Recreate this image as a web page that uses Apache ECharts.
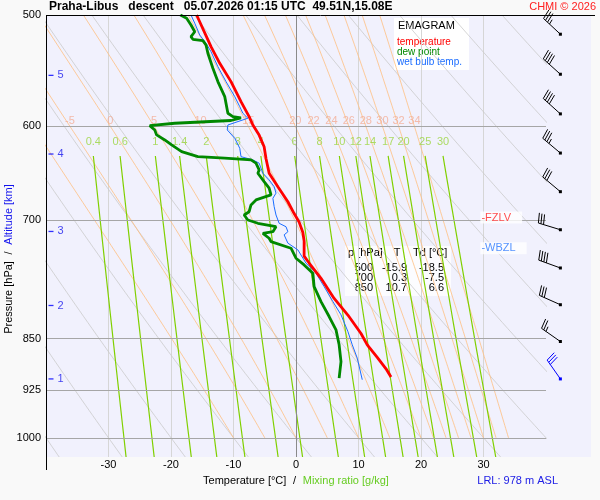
<!DOCTYPE html>
<html>
<head>
<meta charset="utf-8">
<title>Praha-Libus emagram</title>
<script src="https://cdn.jsdelivr.net/npm/echarts@6.0.0/dist/echarts.min.js"></script>
<style>
  html, body { margin: 0; padding: 0; background: #f9f9f9; }
  #chart { width: 600px; height: 500px; }
</style>
</head>
<body>
<div id="chart"></div>
<script>
var FONT = '"Liberation Sans", Arial, sans-serif';

// --- sounding (p in hPa, T in degC) ---
var tempP = [500, 506.8, 519.5, 526.6, 541.2, 557.7, 576.3, 590.6, 598.8, 608.8, 620.6, 632.6, 648.1, 662.5, 679.1,
    692.4, 702.2, 714.2, 724.3, 742.5, 750.9, 769.9, 795.7, 817.7, 842.9, 858.7, 876.6, 893.1, 905.2];
var tempT = [-15.9, -15.3, -14.2, -13.6, -12.2, -10.4, -8.8, -7.5, -6.9, -5.9, -5.1, -4.8, -4.3, -2.9, -1.3,
    -0.3, 0.5, 1.1, 1.3, 1.3, 2.1, 4.0, 6.1, 8.3, 10.4, 11.4, 13.0, 14.4, 15.2];

var dewP = [500, 502.7, 508.3, 513.9, 518.1, 520.3, 521.5, 525.2, 532.4, 545.6, 557.7, 571.6, 587.4, 590.7, 591.9,
    594.4, 597.1, 599.4, 603.7, 608.6, 613.7, 618.7, 625.5, 630.7, 632.3, 634.1, 637.5, 644.6, 648.1, 657.1,
    664.2, 671.5, 677.1, 682.6, 690.3, 694.0, 699.7, 703.5, 707.5, 713.3, 715.2, 721.0, 725.0, 732.9, 745.0,
    753.2, 763.5, 780.5, 799.9, 819.7, 837.8, 858.6, 882.5, 906.7];
var dewT = [-18.5, -17.5, -16.8, -16.2, -16.8, -16.5, -14.9, -14.4, -14.1, -13.3, -12.5, -11.4, -10.9, -10.1, -8.8,
    -10.4, -19.4, -23.4, -22.6, -22.3, -21.0, -19.9, -18.3, -15.7, -11.4, -7.2, -6.4, -5.9, -6.1, -5.1,
    -4.3, -4.0, -6.4, -7.2, -7.5, -8.3, -7.7, -6.1, -3.2, -3.7, -5.3, -4.3, -4.0, -0.8, 0.0,
    1.3, 2.7, 2.9, 4.0, 5.3, 6.4, 6.9, 7.2, 6.9];

var wbP = [500, 506.8, 516.7, 523.7, 531.0, 544.2, 557.7, 571.6, 581.1, 587.4, 592.2, 598.8, 603.7, 612.0, 622.1,
    630.7, 634.1, 637.5, 648.1, 655.2, 662.5, 669.6, 675.3, 684.5, 694.0, 703.5, 707.5, 713.3, 717.0, 726.8,
    734.9, 751.1, 763.5, 780.5, 799.9, 817.4, 840.1, 858.6, 877.6, 909.2];
var wbT = [-16.8, -16.2, -15.4, -14.4, -13.6, -12.5, -11.2, -9.8, -9.0, -8.5, -7.7, -10.9, -11.0, -9.8, -9.0,
    -8.8, -6.9, -5.9, -5.3, -4.3, -3.5, -3.2, -3.7, -3.5, -3.2, -2.7, -1.6, -1.3, -1.9, -1.3,
    0.3, 1.6, 3.2, 4.5, 5.9, 7.2, 8.3, 9.0, 9.8, 10.6];

// wind barbs (dir in deg, speed in kt)
var windP = [516, 551, 588, 627, 668, 711, 757, 804, 854, 908];
var windDir = [313, 312, 312, 310, 310, 287, 290, 294, 305, 325];
var windSpd = [35, 40, 40, 35, 30, 30, 40, 30, 25, 30];

var tableP = [500, 700, 850];
var tableT = [-15.9, 0.3, 10.7];
var tableTd = [-18.5, -7.5, 6.6];

var pressureTicks = [500, 600, 700, 850, 925, 1000];
var altKm = [1, 2, 3, 4, 5];
var altP = [908, 805, 713, 628, 552];
var fzlvP = 697;
var wbzlP = 733;

// diagram background families
var mixRatios = [0.4, 0.6, 1, 1.4, 2, 3, 4, 6, 8, 10, 12, 14, 17, 20, 25, 30];
var thetaW = [-10, -5, 0, 5, 10, 15, 20, 22, 24, 26, 28, 30, 32, 34];
var dryT1000 = [-40, -30, -20, -10, 0, 10, 20, 30, 40, 50, 60, 70, 80, 90, 100, 110];

var P_TOP = 500, P_BOT = 1032;

function pairs(ps, ts) {
    return ps.map(function(p, i) { return [ts[i], p]; });
}
function es(tc) { return 6.112 * Math.exp(17.67 * tc / (tc + 243.5)); }

function dryLine(t0) {
    var th = t0 + 273.15, pts = [];
    for (var p = P_TOP; p < P_BOT; p += 8) pts.push([th * Math.pow(p / 1000, 0.2857) - 273.15, p]);
    pts.push([th * Math.pow(P_BOT / 1000, 0.2857) - 273.15, P_BOT]);
    return pts;
}
function dTdp(p, tk) {
    var e = es(tk - 273.15), rs = 0.622 * e / (p - e), lv = 2.5e6, rd = 287;
    return (rd * tk + lv * rs) / ((1005 + lv * lv * rs * 0.622 / (rd * tk * tk)) * p);
}
function moistLine(t0) {
    var tk = t0 + 273.15, pts = [[t0, 1000]], h = 5;
    for (var p = 1000; p > P_TOP; p -= h) {
        var k1 = dTdp(p, tk);
        tk -= h * dTdp(p - h / 2, tk - h / 2 * k1);
        pts.push([tk - 273.15, p - h]);
    }
    return pts;
}
function mixT(w, p) {
    var l = Math.log(w * p / (622 + w) / 6.112);
    return 243.5 * l / (17.67 - l);
}
function mixLine(w) {
    var pts = [];
    for (var p = 630; p < P_BOT; p += 10) pts.push([mixT(w, p), p]);
    pts.push([mixT(w, P_BOT), P_BOT]);
    return pts;
}

function iso(data, color, width) {
    return { type: 'line', data: data, symbol: 'none', silent: true, z: 1,
        lineStyle: { color: color, width: width } };
}

var series = [];
dryT1000.forEach(function(t) { series.push(iso(dryLine(t), '#cacaca', 0.8)); });
var moist = thetaW.map(moistLine);
moist.forEach(function(l) { series.push(iso(l, '#ffbf80', 0.8)); });
mixRatios.forEach(function(w) { series.push(iso(mixLine(w), '#80d000', 1.2)); });

// pressure grid lines, labels and 0 degC line
series[0].markLine = {
    symbol: ['none', 'none'], silent: true,
    label: { position: 'start', distance: 5, color: '#000', fontSize: 11, fontFamily: FONT,
        formatter: function(p) { return p.value; } },
    lineStyle: { color: '#a6a6a6', width: 1, type: 'solid' },
    data: pressureTicks.map(function(p) {
        return p === 500 ? { yAxis: p, lineStyle: { color: 'rgba(0,0,0,0)' } } : { yAxis: p };
    }).concat([{ xAxis: 0, label: { show: false }, lineStyle: { color: '#8a8a8a' } }])
};

// isoline labels
series.push({
    type: 'scatter', symbolSize: 0, silent: true, z: 3,
    label: { show: true, position: 'inside', formatter: '{b}', color: '#f4ad95', fontSize: 11, fontFamily: FONT },
    data: thetaW.map(function(t, i) {
        var at600 = moist[i][80][0];
        return at600 > -39 ? { name: String(t), value: [at600, 594.5] } : null;
    }).filter(Boolean)
});
series.push({
    type: 'scatter', symbolSize: 0, silent: true, z: 3,
    label: { show: true, position: 'inside', formatter: '{b}', color: '#9ad43c', fontSize: 11, fontFamily: FONT },
    data: mixRatios.map(function(w) { return { name: String(w), value: [mixT(w, 630), 616] }; })
});

// sounding curves
series.push({ type: 'line', name: 'wet bulb temp.', data: pairs(wbP, wbT), symbol: 'none', z: 5,
    lineStyle: { color: '#1a6cff', width: 1 } });
series.push({ type: 'line', name: 'dew point', data: pairs(dewP, dewT), symbol: 'none', z: 6,
    lineStyle: { color: '#008800', width: 2.8 } });
series.push({ type: 'line', name: 'temperature', data: pairs(tempP, tempT), symbol: 'none', z: 7,
    lineStyle: { color: '#ff0000', width: 2.8 } });

// altitude marks
series.push({
    type: 'scatter', symbol: 'rect', symbolSize: [5, 1.3], symbolOffset: [5, 0], silent: true, z: 4,
    itemStyle: { color: '#0000ff' },
    label: { show: true, position: 'right', distance: 4, formatter: '{b}', color: '#1414ee', fontSize: 11, fontFamily: FONT },
    data: altKm.map(function(k, i) { return { name: String(k), value: [-40, altP[i]] }; })
});

// freezing / wet bulb zero levels
series.push({
    type: 'scatter', symbolSize: 0, silent: true, z: 8,
    label: { show: true, position: 'right', distance: 0, backgroundColor: '#fff', padding: [1, 11, 0, 1],
        fontSize: 11, fontFamily: FONT, formatter: '{b}' },
    data: [
        { name: '-FZLV', value: [29.5, fzlvP], label: { color: '#ff2020' } },
        { name: '-WBZL', value: [29.5, wbzlP], label: { color: '#2a78ff' } }
    ]
});

// wind barbs
series.push({
    type: 'custom', silent: true, z: 8,
    data: windP.map(function(p, i) { return [42.3, p, windDir[i], windSpd[i]]; }),
    renderItem: function(params, api) {
        var pt = api.coord([api.value(0), api.value(1)]);
        var a = api.value(2) * Math.PI / 180, spd = api.value(3);
        var dx = Math.sin(a), dy = -Math.cos(a), px = -dy, py = dx;
        var L = 23, bl = 10, gap = 2.7;
        var col = params.dataIndex === windP.length - 1 ? '#0000ff' : '#000';
        var kids = [
            { type: 'line', shape: { x1: pt[0], y1: pt[1], x2: pt[0] + dx * L, y2: pt[1] + dy * L },
                style: { stroke: col, lineWidth: 1 } },
            { type: 'rect', shape: { x: pt[0] - 1.5, y: pt[1] - 1.5, width: 3, height: 3 }, style: { fill: col } }
        ];
        function barb(k, len) {
            var bx = pt[0] + dx * (L - k * gap), by = pt[1] + dy * (L - k * gap);
            kids.push({ type: 'line',
                shape: { x1: bx, y1: by, x2: bx + px * len + dx * len * 0.2, y2: by + py * len + dy * len * 0.2 },
                style: { stroke: col, lineWidth: 1 } });
        }
        var rest = spd, k = 0;
        while (rest >= 10) { barb(k, bl); rest -= 10; k++; }
        if (rest >= 5) barb(k, bl / 2);
        return { type: 'group', children: kids };
    }
});

// table text
var tableKids = [
    { type: 'rect', shape: { x: 345, y: 246, width: 106, height: 50 }, style: { fill: 'rgba(255,255,255,0.8)' } },
    { type: 'text', x: 348, y: 253, style: { text: 'p [hPa]', fill: '#000', font: '11px ' + FONT, verticalAlign: 'middle' } },
    { type: 'text', x: 397, y: 253, style: { text: 'T', fill: '#000', font: '11px ' + FONT, align: 'center', verticalAlign: 'middle' } },
    { type: 'text', x: 413, y: 253, style: { text: 'Td [°C]', fill: '#000', font: '11px ' + FONT, verticalAlign: 'middle' } }
];
tableP.forEach(function(p, i) {
    var y = 268 + i * 10;
    [[String(p), 373], [tableT[i].toFixed(1), 407], [tableTd[i].toFixed(1), 444]].forEach(function(c) {
        tableKids.push({ type: 'text', x: c[1], y: y,
            style: { text: c[0], fill: '#000', font: '11px ' + FONT, align: 'right', verticalAlign: 'middle' } });
    });
});

var chart = echarts.init(document.getElementById('chart'), null, { renderer: 'canvas' });
chart.setOption({
    animation: false,
    backgroundColor: '#f9f9f9',
    textStyle: { fontFamily: FONT },
    title: [
        { text: 'Praha-Libus   descent   05.07.2026 01:15 UTC  49.51N,15.08E', left: 48, top: 0, padding: 1,
            textStyle: { fontSize: 12, fontWeight: 'bold', color: '#000', fontFamily: FONT } },
        { text: 'CHMI © 2026', right: 3, top: 0, padding: 1,
            textStyle: { fontSize: 11, fontWeight: 'normal', color: '#ff2020', fontFamily: FONT } }
    ],
    grid: { left: 46, right: 54, top: 15, bottom: 43 },
    xAxis: {
        type: 'value', min: -40, max: 40, interval: 10,
        axisLine: { show: false }, axisTick: { show: false },
        axisLabel: { color: '#000', fontSize: 11, margin: 2, showMinLabel: false, showMaxLabel: false },
        splitLine: { show: true, showMinLine: false, showMaxLine: false, lineStyle: { color: '#d6d6d6', width: 1 } },
        name: '{a|Temperature [°C]}  {a|/}  {b|Mixing ratio [g/kg]}',
        nameLocation: 'middle', nameGap: 15,
        nameTextStyle: { rich: {
            a: { color: '#000', fontSize: 11, fontFamily: FONT },
            b: { color: '#66cc22', fontSize: 11, fontFamily: FONT }
        } }
    },
    yAxis: {
        type: 'log', logBase: 10, min: P_TOP, max: P_BOT, inverse: true,
        axisLine: { show: false }, axisTick: { show: false }, axisLabel: { show: false }, splitLine: { show: false }
    },
    graphic: [
        { type: 'rect', z: -10, shape: { x: 46, y: 15, width: 545, height: 442 }, style: { fill: '#f1f1fd' } },
        { type: 'line', z: 50, shape: { x1: 46, y1: 15.5, x2: 595, y2: 15.5 }, style: { stroke: '#000', lineWidth: 1 } },
        { type: 'line', z: 50, shape: { x1: 46.5, y1: 15, x2: 46.5, y2: 470 }, style: { stroke: '#000', lineWidth: 1 } },
        { type: 'group', z: 60, children: [
            { type: 'rect', shape: { x: 394, y: 18, width: 75, height: 52 }, style: { fill: '#ffffff' } },
            { type: 'text', x: 398, y: 26, style: { text: 'EMAGRAM', fill: '#000', font: '11px ' + FONT, verticalAlign: 'middle' } },
            { type: 'text', x: 397, y: 42, style: { text: 'temperature', fill: '#ff0000', font: '10px ' + FONT, verticalAlign: 'middle' } },
            { type: 'text', x: 397, y: 52, style: { text: 'dew point', fill: '#008800', font: '10px ' + FONT, verticalAlign: 'middle' } },
            { type: 'text', x: 397, y: 62, style: { text: 'wet bulb temp.', fill: '#1a6cff', font: '10px ' + FONT, verticalAlign: 'middle' } }
        ] },
        { type: 'group', z: 60, children: tableKids },
        { type: 'text', z: 60, x: 9, y: 259, rotation: Math.PI / 2,
            style: { text: '{a|Pressure [hPa]}  {a|/}  {b|Altitude [km]}', align: 'center', verticalAlign: 'middle',
                rich: { a: { fill: '#000', font: '11px ' + FONT }, b: { fill: '#1414ee', font: '11px ' + FONT } } } },
        { type: 'text', z: 60, x: 558, y: 481,
            style: { text: 'LRL: 978 m ASL', fill: '#2020e6', font: '11px ' + FONT, align: 'right', verticalAlign: 'middle' } }
    ],
    series: series
});
window.addEventListener('resize', function() { chart.resize(); });
</script>
</body>
</html>
